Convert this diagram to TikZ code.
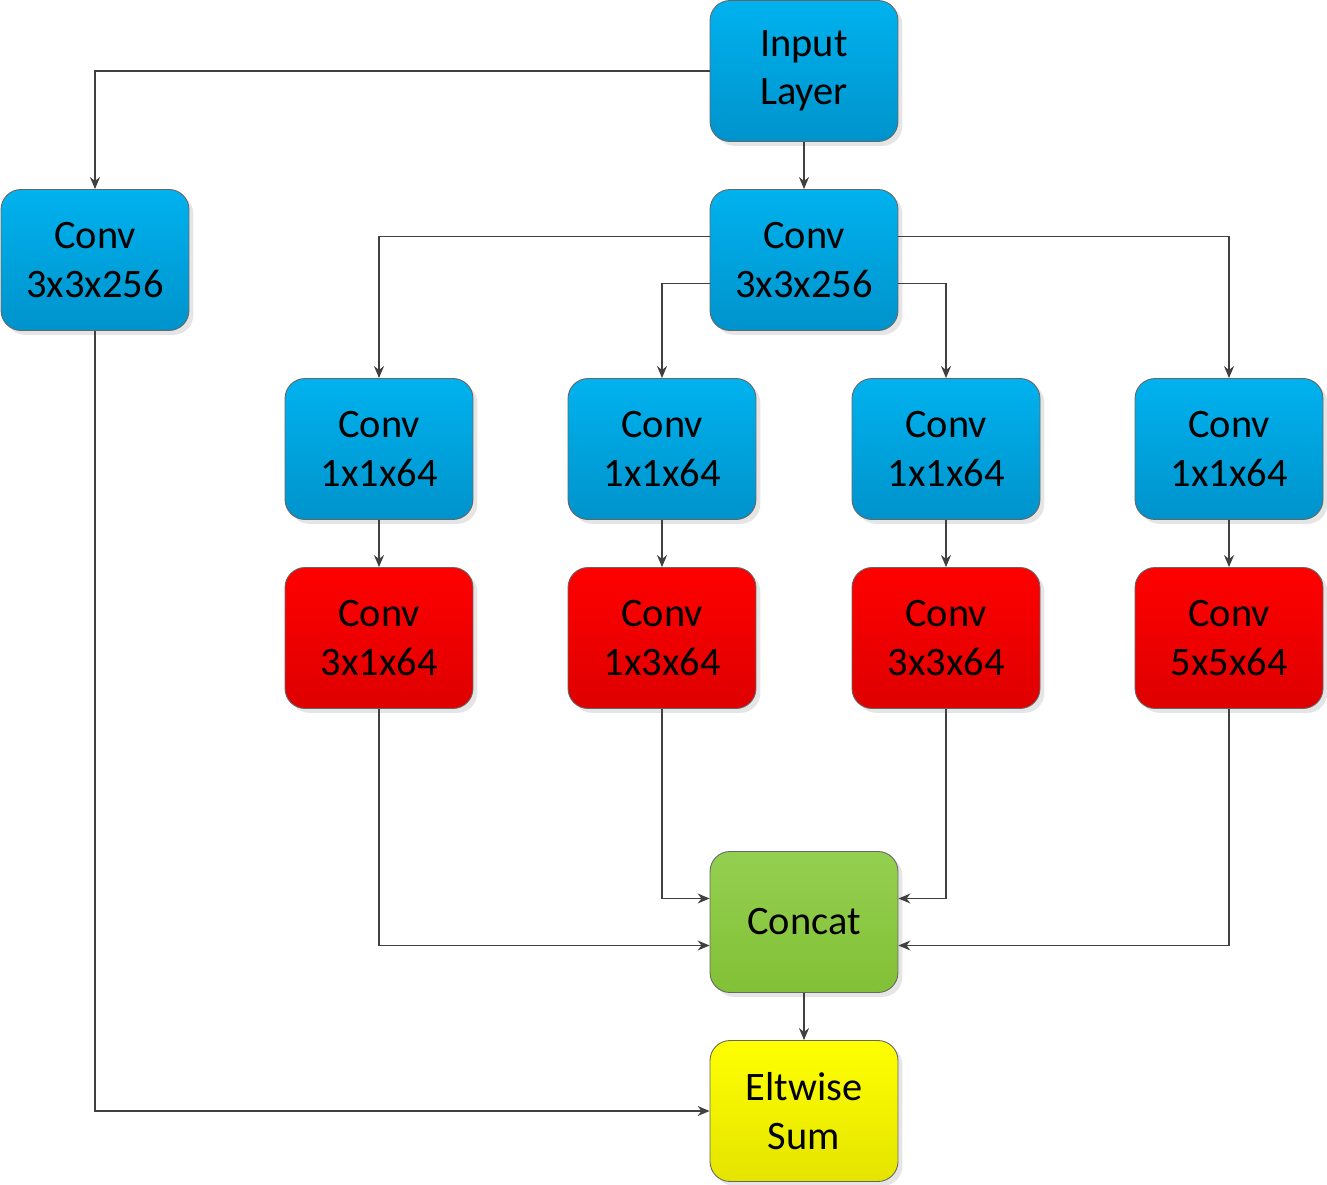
\documentclass[tikz,border=0pt]{standalone}
\usepackage{fontspec}
\setmainfont{Carlito}
\usetikzlibrary{arrows.meta,shadows}
\definecolor{btop}{HTML}{00B2EE}
\definecolor{bbot}{HTML}{0093CC}
\definecolor{rtop}{HTML}{FF0000}
\definecolor{rbot}{HTML}{DE0000}
\definecolor{gtop}{HTML}{94D050}
\definecolor{gbot}{HTML}{82C036}
\definecolor{ytop}{HTML}{FFFF00}
\definecolor{ybot}{HTML}{E4E400}
\definecolor{edgec}{HTML}{404040}
\begin{document}
\begin{tikzpicture}[x=0.02cm,y=-0.02cm,
  box/.style={draw=edgec!80, line width=0.5pt, rounded corners=0.4cm,
    minimum width=3.76cm, minimum height=2.82cm, align=center,
    font=\fontsize{23pt}{27.5pt}\selectfont, inner sep=0pt,
    drop shadow={shadow xshift=2.5pt, shadow yshift=-2.5pt, opacity=0.25, fill=black!40}},
  blue/.style={box, top color=btop, bottom color=bbot},
  red/.style={box, top color=rtop, bottom color=rbot},
  green/.style={box, top color=gtop, bottom color=gbot},
  yellow/.style={box, top color=ytop, bottom color=ybot},
  conn/.style={draw=edgec, line width=0.7pt, -{Stealth[length=0.24cm,width=0.2cm]}}
]
\useasboundingbox (0,0) rectangle (1327,1185);
\node[blue] (inp) at (804,71) {Input\\Layer};
\node[blue] (cl) at (95,260) {Conv\\3x3x256};
\node[blue] (ct) at (804,260) {Conv\\3x3x256};
\node[blue] (a1) at (379,449) {Conv\\1x1x64};
\node[blue] (a2) at (662,449) {Conv\\1x1x64};
\node[blue] (a3) at (946,449) {Conv\\1x1x64};
\node[blue] (a4) at (1229,449) {Conv\\1x1x64};
\node[red] (b1) at (379,638) {Conv\\3x1x64};
\node[red] (b2) at (662,638) {Conv\\1x3x64};
\node[red] (b3) at (946,638) {Conv\\3x3x64};
\node[red] (b4) at (1229,638) {Conv\\5x5x64};
\node[green] (cc) at (804,922) {Concat};
\node[yellow] (es) at (804,1111) {Eltwise\\Sum};

\draw[conn] (inp.west) -| (cl.north);
\draw[conn] (inp.south) -- (ct.north);
\draw[conn] ([yshift=0.47cm]ct.west) -| (a1.north);
\draw[conn] ([yshift=-0.47cm]ct.west) -| (a2.north);
\draw[conn] ([yshift=-0.47cm]ct.east) -| (a3.north);
\draw[conn] ([yshift=0.47cm]ct.east) -| (a4.north);
\draw[conn] (a1) -- (b1);
\draw[conn] (a2) -- (b2);
\draw[conn] (a3) -- (b3);
\draw[conn] (a4) -- (b4);
\draw[conn] (b1.south) |- ([yshift=-0.47cm]cc.west);
\draw[conn] (b2.south) |- ([yshift=0.47cm]cc.west);
\draw[conn] (b3.south) |- ([yshift=0.47cm]cc.east);
\draw[conn] (b4.south) |- ([yshift=-0.47cm]cc.east);
\draw[conn] (cc) -- (es);
\draw[conn] (cl.south) |- (es.west);
\end{tikzpicture}
\end{document}
